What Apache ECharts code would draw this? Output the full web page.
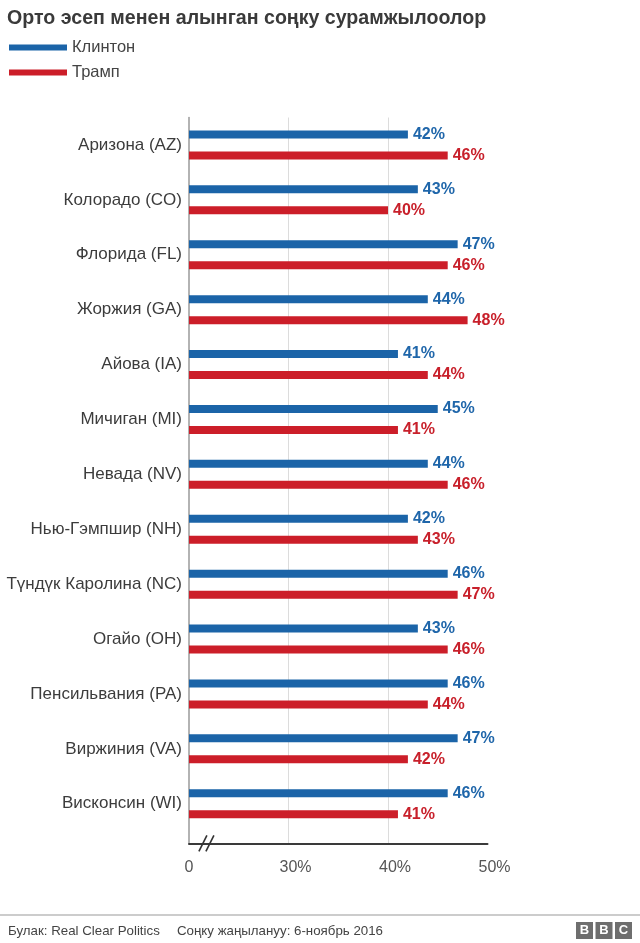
<!DOCTYPE html>
<html>
<head>
<meta charset="utf-8">
<script src="https://cdn.jsdelivr.net/npm/echarts@6/dist/echarts.min.js"></script>
<style>
html,body{margin:0;padding:0;background:#fff;}
#c{width:640px;height:943px;}
</style>
</head>
<body>
<div id="c"></div>
<script>
var states = ['Аризона (AZ)','Колорадо (CO)','Флорида (FL)','Жоржия (GA)','Айова (IA)','Мичиган (MI)','Невада (NV)','Нью-Гэмпшир (NH)','Түндүк Каролина (NC)','Огайо (OH)','Пенсильвания (PA)','Виржиния (VA)','Висконсин (WI)'];
var clinton = [42,43,47,44,41,45,44,42,46,43,46,47,46];
var trump   = [46,40,46,48,44,41,46,43,47,46,44,42,41];
var seriesNames = ['Клинтон','Трамп'];
var xTicks = [20,30,40,50];
var xTickLabels = ['0','30%','40%','50%'];

var FONT = "Helvetica, Arial, 'Liberation Sans', sans-serif";
var BLUE = '#1b64a8';
var RED = '#cc1e29';

var chart = echarts.init(document.getElementById('c'), null, {renderer:'canvas'});
var L = 189, W = 298.5, T = 117.5, BAND = 54.9;

var option = {
  animation:false,
  textStyle:{fontFamily:FONT},
  title:{
    text:'Орто эсеп менен алынган соңку сурамжылоолор',
    left:7, top:9, padding:0,
    textStyle:{fontFamily:FONT,fontSize:19.6,fontWeight:'bold',color:'#3a3a3a'}
  },
  legend:{
    orient:'vertical', left:4, top:33.5,
    itemWidth:58, itemHeight:6, itemGap:7,
    icon:'rect',
    textStyle:{fontFamily:FONT,fontSize:16.5,color:'#444',lineHeight:18},
    data:seriesNames
  },
  grid:[
    {left:L, top:T, width:W, height:BAND*states.length, containLabel:false},
    {left:L, top:T, width:W, height:843.3-T, containLabel:false}
  ],
  xAxis:[
    {gridIndex:0,type:'value',min:20,max:50,interval:10,
     axisLine:{show:false},axisTick:{show:false},axisLabel:{show:false},splitLine:{show:false}},
    {gridIndex:1,type:'value',min:20,max:50,interval:10,
     axisLine:{show:true,lineStyle:{color:'#3a3a3a',width:2}},
     axisTick:{show:false},
     splitLine:{show:true,showMinLine:false,showMaxLine:false,lineStyle:{color:'#dcdcdc',width:1}},
     axisLabel:{margin:16,fontFamily:FONT,fontSize:16,color:'#555',
       formatter:function(v){
         var i = xTicks.indexOf(v);
         var s = i>=0 ? xTickLabels[i] : '';
         if(s.indexOf('%')>=0){ return '{s|}' + s; }
         return s;
       },
       rich:{s:{width:14}}
     }}
  ],
  yAxis:[
    {gridIndex:0,type:'category',inverse:true,data:states,
     axisLine:{show:false},axisTick:{show:false},
     axisLabel:{margin:7,fontFamily:FONT,fontSize:17,color:'#3c3c3c'}},
    {gridIndex:1,type:'value',min:0,max:1,
     axisLine:{show:true,lineStyle:{color:'#9a9a9a',width:1.5}},
     axisTick:{show:false},axisLabel:{show:false},splitLine:{show:false}}
  ],
  series:[
    {name:seriesNames[0],type:'bar',xAxisIndex:0,yAxisIndex:0,data:clinton,
     barWidth:8,barGap:'162%',itemStyle:{color:BLUE},
     label:{show:true,position:'right',distance:5,formatter:'{c}%',
       fontFamily:FONT,fontSize:16,fontWeight:'bold',color:'#1f66aa'}},
    {name:seriesNames[1],type:'bar',xAxisIndex:0,yAxisIndex:0,data:trump,
     barWidth:8,barGap:'162%',itemStyle:{color:RED},
     label:{show:true,position:'right',distance:5,formatter:'{c}%',
       fontFamily:FONT,fontSize:16,fontWeight:'bold',color:'#c8202b'}}
  ]
};
chart.setOption(option);

// axis break mark and footer
var bx = chart.convertToPixel({xAxisIndex:1}, 21.4);
var by = chart.convertToPixel({yAxisIndex:1}, 0);
var g = [];
[0,7].forEach(function(dx){
  g.push({type:'line',shape:{x1:bx+dx-4,y1:by+8,x2:bx+dx+4,y2:by-8},
    style:{stroke:'#333',lineWidth:1.6},z:100});
});
g.push({type:'line',shape:{x1:0,y1:915,x2:640,y2:915},style:{stroke:'#9a9a9a',lineWidth:1.2}});
g.push({type:'text',left:8,top:925,style:{text:'Булак: Real Clear Politics',font:'13.3px '+FONT,fill:'#444'}});
g.push({type:'text',left:177,top:925,style:{text:'Соңку жаңылануу: 6-ноябрь 2016',font:'13.3px '+FONT,fill:'#444'}});
['B','B','C'].forEach(function(ch,i){
  var x0 = 576 + i*19.5;
  g.push({type:'rect',shape:{x:x0,y:922,width:17,height:17},style:{fill:'#6e6e6e'}});
  g.push({type:'text',x:x0+8.5,y:930.5,style:{text:ch,font:'bold 13px '+FONT,fill:'#fff',textAlign:'center',textVerticalAlign:'middle'}});
});
chart.setOption({graphic:g});
</script>
</body>
</html>
